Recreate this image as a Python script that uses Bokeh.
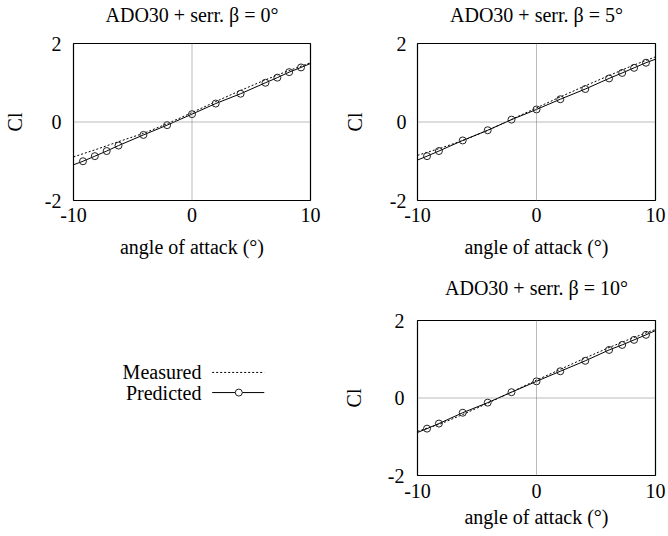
from bokeh.plotting import figure
from bokeh.layouts import gridplot
from bokeh.models import Range1d, Span, FixedTicker, LinearAxis
from bokeh.core.properties import value
from bokeh.embed import file_html
from bokeh.resources import INLINE

FONT = "Liberation Serif"
FS = "20px"

titles = ["ADO30 + serr. \u03b2 = 0\u00b0", "ADO30 + serr. \u03b2 = 5\u00b0", "ADO30 + serr. \u03b2 = 10\u00b0"]
x_label = "angle of attack (\u00b0)"
y_label = "Cl"
x_ticks = [-10, 0, 10]
y_ticks = [-2, 0, 2]
x_tick_labels = {-10: "-10", 0: "0", 10: "10"}
y_tick_labels = {-2: "-2", 0: "0", 2: "2"}

# Predicted (markers)
pred_angle_0 = [-9.2, -8.2, -7.2, -6.2, -4.1, -2.1, 0, 2, 4.1, 6.2, 7.2, 8.2, 9.2]
pred_cl_0 = [-1.0, -0.87, -0.74, -0.6, -0.33, -0.08, 0.2, 0.47, 0.72, 1.0, 1.13, 1.27, 1.39]
pred_angle_5 = [-9.2, -8.2, -6.2, -4.1, -2.1, 0, 2, 4.1, 6.1, 7.2, 8.2, 9.2]
pred_cl_5 = [-0.87, -0.74, -0.47, -0.21, 0.06, 0.32, 0.58, 0.84, 1.11, 1.25, 1.38, 1.51]
pred_angle_10 = [-9.2, -8.2, -6.2, -4.1, -2.1, 0, 2, 4.1, 6.1, 7.2, 8.2, 9.2]
pred_cl_10 = [-0.79, -0.66, -0.38, -0.12, 0.15, 0.43, 0.69, 0.96, 1.24, 1.37, 1.5, 1.63]

# Predicted line end values at -10 and 10
pred_end_angle = [-10, 10]
pred_end_cl_0 = [-1.09, 1.49]
pred_end_cl_5 = [-0.97, 1.60]
pred_end_cl_10 = [-0.89, 1.74]

# Measured (dotted line)
meas_angle = [-10, -8, -6, -4, -2, 0, 2, 4, 6, 8, 10]
meas_cl_0 = [-0.89, -0.69, -0.48, -0.28, -0.03, 0.24, 0.52, 0.79, 1.05, 1.29, 1.51]
meas_cl_5 = [-0.85, -0.66, -0.45, -0.20, 0.08, 0.36, 0.64, 0.91, 1.17, 1.43, 1.66]
meas_cl_10 = [-0.86, -0.66, -0.40, -0.12, 0.17, 0.46, 0.74, 1.02, 1.29, 1.54, 1.77]

legend_labels = ["Measured", "Predicted"]

W, H = 334, 268


def style_axis_text(ax):
    ax.axis_line_color = None
    ax.major_tick_line_color = None
    ax.minor_tick_line_color = None
    ax.major_tick_in = 0
    ax.major_tick_out = 0
    ax.minor_tick_in = 0
    ax.minor_tick_out = 0
    ax.major_label_text_font = FONT
    ax.major_label_text_font_size = FS
    ax.major_label_text_color = "black"
    ax.axis_label_text_font = FONT
    ax.axis_label_text_font_size = FS
    ax.axis_label_text_font_style = "normal"
    ax.axis_label_text_color = "black"


def make_panel(title, pa, pc, pe, mc, borders, stand):
    left, right, top, bottom = borders
    t_stand, xt_stand, xl_stand, yt_stand, yl_stand = stand
    p = figure(width=W, height=H, output_backend="svg", toolbar_location=None,
               x_range=Range1d(-10, 10), y_range=Range1d(-2, 2),
               min_border_left=left, min_border_right=right,
               min_border_top=top, min_border_bottom=bottom)
    p.outline_line_color = "black"
    p.outline_line_width = 1.2
    p.xgrid.visible = False
    p.ygrid.visible = False
    p.background_fill_color = "white"
    p.border_fill_color = "white"
    for ax, ticks, labs in ((p.xaxis[0], x_ticks, x_tick_labels), (p.yaxis[0], y_ticks, y_tick_labels)):
        ax.ticker = FixedTicker(ticks=ticks)
        ax.major_label_overrides = labs
        style_axis_text(ax)
    p.xaxis.axis_label = x_label
    p.yaxis.axis_label = y_label
    p.xaxis.major_label_standoff = xt_stand
    p.xaxis.axis_label_standoff = xl_stand
    p.yaxis.major_label_standoff = yt_stand
    p.yaxis.axis_label_standoff = yl_stand
    p.yaxis.major_label_orientation = "horizontal"
    # panel heading, drawn as the label of a tickless axis above the frame
    head = LinearAxis(axis_label=title, ticker=FixedTicker(ticks=[]))
    style_axis_text(head)
    head.major_label_standoff = 0
    head.axis_label_standoff = t_stand
    p.add_layout(head, "above")
    for dim in ("width", "height"):
        p.add_layout(Span(location=0, dimension=dim, line_color="#777777",
                          line_width=1, line_dash="1 1"))
    p.line(meas_angle, mc, line_color="black", line_width=1, line_dash="2 2")
    lx = [pe[0][0]] + pa + [pe[0][1]]
    ly = [pe[1][0]] + pc + [pe[1][1]]
    p.line(lx, ly, line_color="black", line_width=1)
    p.scatter(pa, pc, marker="circle", size=7, fill_color=None,
              line_color="#222222", line_width=1)
    return p


p1 = make_panel(titles[0], pred_angle_0, pred_cl_0, (pred_end_angle, pred_end_cl_0), meas_cl_0,
                (71, 24, 43, 68), (18, 7, 11, 12, 16))
p2 = make_panel(titles[1], pred_angle_5, pred_cl_5, (pred_end_angle, pred_end_cl_5), meas_cl_5,
                (83, 13, 43, 68), (18, 7, 11, 11, 21))
p3 = make_panel(titles[2], pred_angle_10, pred_cl_10, (pred_end_angle, pred_end_cl_10), meas_cl_10,
                (83, 13, 52, 61), (22, 8, 5, 13, 20))

# Legend panel (gnuplot style: label left, sample right); frame aligned with p1 column / p3 row
lg = figure(width=W, height=H, output_backend="svg", toolbar_location=None,
            x_range=Range1d(-10, 10), y_range=Range1d(-2, 2),
            x_axis_location=None, y_axis_location=None,
            min_border_left=71, min_border_right=24, min_border_top=52, min_border_bottom=61,
            outline_line_color=None)
lg.grid.visible = False
leg_y = [0.66, 0.14]
lg.text(x=[0.8, 0.8], y=leg_y, text=legend_labels, text_align="right",
        text_baseline="middle", text_font=value(FONT), text_font_size=FS,
        text_color="black")
lg.line([1.7, 6.1], [leg_y[0], leg_y[0]], line_color="black", line_width=1, line_dash="2 2")
lg.line([1.7, 6.1], [leg_y[1], leg_y[1]], line_color="black", line_width=1)
lg.scatter([3.95], [leg_y[1]], marker="circle", size=7, fill_color="white",
           line_color="#222222", line_width=1)

grid = gridplot([[p1, p2], [lg, p3]], toolbar_location=None)
open("out.html", "w").write(file_html(grid, INLINE))
